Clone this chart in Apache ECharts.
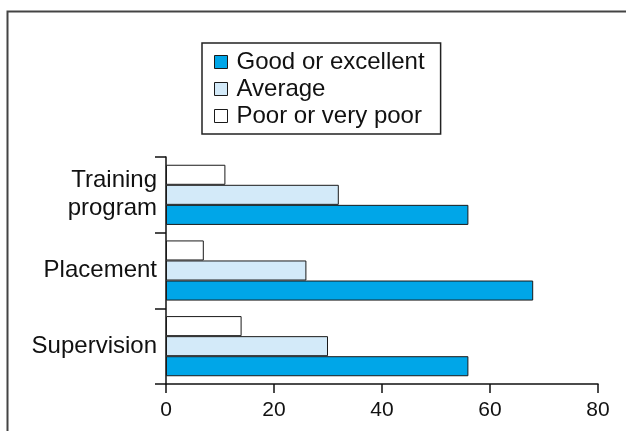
<!DOCTYPE html>
<html>
<head>
<meta charset="utf-8">
<script src="https://cdn.jsdelivr.net/npm/echarts@6/dist/echarts.min.js"></script>
<style>html,body{margin:0;padding:0;background:#fff;}#c{width:626px;height:431px;}</style>
</head>
<body>
<div id="c"></div>
<script>
var categories = ['Training\nprogram', 'Placement', 'Supervision'];
var seriesNames = ['Good or excellent', 'Average', 'Poor or very poor'];
var goodValues = [56, 68, 56];
var averageValues = [32, 26, 30];
var poorValues = [11, 7, 14];
var xTicks = [0, 20, 40, 60, 80];

var FONT = '"Liberation Sans", Arial, Helvetica, sans-serif';
var chart = echarts.init(document.getElementById('c'), null, {renderer: 'canvas'});
var barBorder = {borderColor: '#1a1a1a', borderWidth: 1};
chart.setOption({
  animation: false,
  backgroundColor: '#fff',
  textStyle: {fontFamily: FONT},
  graphic: [{
    type: 'polyline',
    shape: {points: [[7.5, 431], [7.5, 11.5], [626, 11.5]]},
    style: {stroke: '#444', lineWidth: 2, fill: null},
    silent: true
  }],
  legend: {
    orient: 'vertical',
    left: 202,
    top: 43,
    padding: [7, 16, 6, 12],
    itemGap: 3,
    itemWidth: 13,
    itemHeight: 13,
    icon: 'rect',
    borderColor: '#222',
    borderWidth: 1.5,
    data: seriesNames,
    itemStyle: {borderColor: '#1a1a1a', borderWidth: 1},
    textStyle: {fontFamily: FONT, fontSize: 24, color: '#111', padding: [0, 0, 0, 4]}
  },
  grid: {left: 166, right: 28, top: 157, bottom: 47, containLabel: false},
  xAxis: {
    type: 'value',
    min: xTicks[0],
    max: xTicks[xTicks.length - 1],
    interval: xTicks[1] - xTicks[0],
    axisLine: {show: true, lineStyle: {color: '#111', width: 1.5}},
    axisTick: {show: true, length: 9, lineStyle: {color: '#111', width: 1.5}},
    splitLine: {show: false},
    axisLabel: {fontFamily: FONT, fontSize: 21, color: '#111', margin: 16}
  },
  yAxis: {
    type: 'category',
    inverse: true,
    data: categories,
    axisLine: {show: true, lineStyle: {color: '#111', width: 1.5}},
    axisTick: {show: true, length: 11, lineStyle: {color: '#111', width: 1.5}},
    axisLabel: {fontFamily: FONT, fontSize: 24, lineHeight: 28, color: '#111', margin: 9, align: 'right'}
  },
  series: [
    {name: seriesNames[2], type: 'bar', data: poorValues, barGap: '0%', barCategoryGap: '20.5%',
     itemStyle: Object.assign({color: '#ffffff'}, barBorder)},
    {name: seriesNames[1], type: 'bar', data: averageValues, barGap: '0%', barCategoryGap: '20.5%',
     itemStyle: Object.assign({color: '#d3eaf9'}, barBorder)},
    {name: seriesNames[0], type: 'bar', data: goodValues, barGap: '0%', barCategoryGap: '20.5%',
     itemStyle: Object.assign({color: '#00a6e8'}, barBorder)}
  ]
});
</script>
</body>
</html>
